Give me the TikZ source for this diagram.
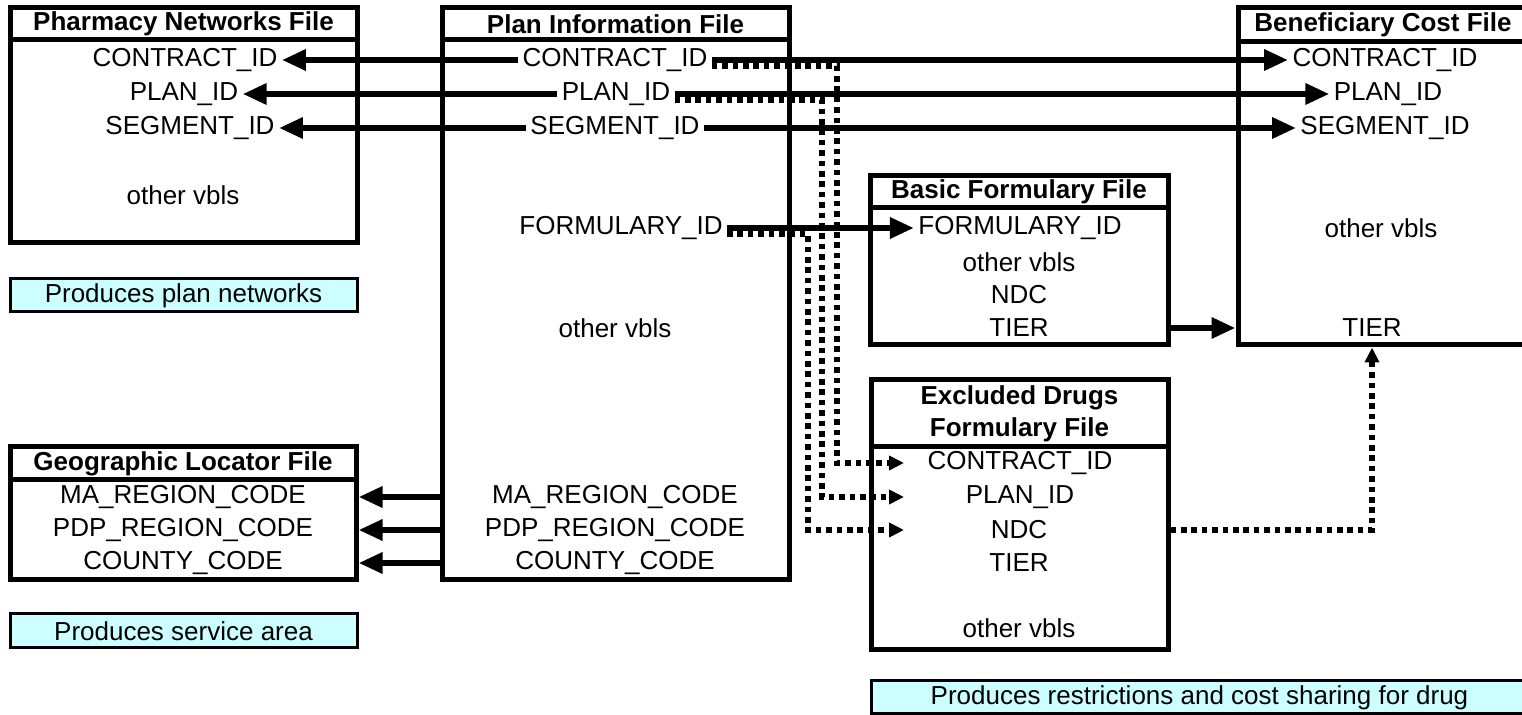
\documentclass[tikz,border=0pt]{standalone}
\usepackage{fontspec}
\setmainfont{Liberation Sans}
\usepackage{tikz}
\usetikzlibrary{arrows.meta}
\definecolor{noteCyan}{HTML}{CCFFFF}
\tikzset{
  fileBox/.style={%
    rectangle, draw, line width=2.5pt, inner sep=0pt,
  },
  headBox/.style={%
    fileBox, align=center,
    font=\bfseries\fontsize{13pt}{16pt}\selectfont,
  },
  fieldNode/.style={%
    inner sep=2pt, font=\fontsize{13pt}{16pt}\selectfont,
  },
  noteBox/.style={%
    rectangle, draw, line width=1.5pt, fill=noteCyan, inner sep=0pt,
    font=\fontsize{13pt}{16pt}\selectfont,
  },
  keyArrow/.style={%
    line width=3pt, -{Triangle[length=12pt,width=10pt]},
  },
  linkDots/.style={%
    line width=2.8pt, dash pattern=on 2.8pt off 2.4pt,
    -{Triangle[length=7.5pt,width=7pt]},
  }
}

\begin{document}
\begin{tikzpicture}[x=0.5pt,y=-0.5pt]
                \useasboundingbox (0,0) rectangle (1522,715);
                % file boxes
                \node[fileBox, minimum width=173.5pt, minimum height=117.5pt]
                  (pharmBox) at (183.5,125.5) {};
                \node[headBox, minimum width=173.5pt, minimum height=16pt]
                  (pharmHead) at (183.5,24) {Pharmacy Networks File};
                \node[fileBox, minimum width=173.5pt, minimum height=286pt]
                  (planBox) at (615.5,294) {};
                \node[headBox, minimum width=173.5pt, minimum height=16pt]
                  (planHead) at (615.5,24) {Plan Information File};
                \node[fileBox, minimum width=145pt, minimum height=168.5pt]
                  (benBox) at (1383,176.5) {};
                \node[headBox, minimum width=145pt, minimum height=17pt]
                  (benHead) at (1383,25) {Beneficiary Cost File};
                \node[fileBox, minimum width=149pt, minimum height=84.5pt]
                  (basicBox) at (1019,260.5) {};
                \node[headBox, minimum width=149pt, minimum height=16pt]
                  (basicHead) at (1019,192) {Basic Formulary File};
                \node[fileBox, minimum width=148.5pt, minimum height=135pt]
                  (exBox) at (1019.5,515) {};
                \node[headBox, minimum width=148.5pt, minimum height=33.5pt]
                  (exHead) at (1019.5,413.5) {Excluded Drugs\\Formulary File};
                \node[fileBox, minimum width=173pt, minimum height=66.5pt]
                  (geoBox) at (183,513.5) {};
                \node[headBox, minimum width=173pt, minimum height=16.5pt]
                  (geoHead) at (183,463.5) {Geographic Locator File};

                % notes
                \node[noteBox, minimum width=173.5pt, minimum height=16.5pt]
                  (noteNetworks) at (183.5,295.5) {Produces plan networks};
                \node[noteBox, minimum width=173.5pt, minimum height=17pt]
                  (noteArea) at (183.5,631) {Produces service area};
                \node[noteBox, minimum width=328.5pt, minimum height=16.5pt]
                  (noteDrug) at (1199.5,697.5) {Produces restrictions and cost sharing for drug};

                % fields
                \node[fieldNode] (pharmContract) at (185,60) {CONTRACT\_ID};
                \node[fieldNode] (pharmPlan) at (184,94) {PLAN\_ID};
                \node[fieldNode] (pharmSegment) at (190,128) {SEGMENT\_ID};
                \node[fieldNode] (pharmOther) at (183,195) {other vbls};

                \node[fieldNode] (planContract) at (615,60) {CONTRACT\_ID};
                \node[fieldNode] (planPlan) at (616,94) {PLAN\_ID};
                \node[fieldNode] (planSegment) at (615,128) {SEGMENT\_ID};
                \node[fieldNode] (planFormulary) at (621,228) {FORMULARY\_ID};
                \node[fieldNode] (planOther) at (615,328) {other vbls};
                \node[fieldNode] (planMa) at (615,497) {MA\_REGION\_CODE};
                \node[fieldNode] (planPdp) at (615,530) {PDP\_REGION\_CODE};
                \node[fieldNode] (planCounty) at (615,563) {COUNTY\_CODE};

                \node[fieldNode] (benContract) at (1385,60) {CONTRACT\_ID};
                \node[fieldNode] (benPlan) at (1388,94) {PLAN\_ID};
                \node[fieldNode] (benSegment) at (1385,128) {SEGMENT\_ID};
                \node[fieldNode] (benOther) at (1381,228) {other vbls};
                \node[fieldNode] (benTier) at (1372,328) {TIER};

                \node[fieldNode] (basicFormulary) at (1020,228) {FORMULARY\_ID};
                \node[fieldNode] (basicOther) at (1019,262) {other vbls};
                \node[fieldNode] (basicNdc) at (1019,295) {NDC};
                \node[fieldNode] (basicTier) at (1019,328) {TIER};

                \node[fieldNode] (exContract) at (1020,463) {CONTRACT\_ID};
                \node[fieldNode] (exPlan) at (1020,497) {PLAN\_ID};
                \node[fieldNode] (exNdc) at (1019,530) {NDC};
                \node[fieldNode] (exTier) at (1019,563) {TIER};
                \node[fieldNode] (exOther) at (1019,628) {other vbls};

                \node[fieldNode] (geoMa) at (183,497) {MA\_REGION\_CODE};
                \node[fieldNode] (geoPdp) at (183,530) {PDP\_REGION\_CODE};
                \node[fieldNode] (geoCounty) at (183,563) {COUNTY\_CODE};

                % key links
                \draw[keyArrow] (planContract) -- (pharmContract);
                \draw[keyArrow] (planPlan) -- (pharmPlan);
                \draw[keyArrow] (planSegment) -- (pharmSegment);
                \draw[keyArrow] (planContract) -- (benContract);
                \draw[keyArrow] (planPlan) -- (benPlan);
                \draw[keyArrow] (planSegment) -- (benSegment);
                \draw[keyArrow] (planFormulary) -- (basicFormulary);
                \draw[keyArrow] (basicBox.east |- basicTier) -- (benBox.west |- basicTier);
                \draw[keyArrow] (planBox.west |- planMa) -- (geoBox.east |- geoMa);
                \draw[keyArrow] (planBox.west |- planPdp) -- (geoBox.east |- geoPdp);
                \draw[keyArrow] (planBox.west |- planCounty) -- (geoBox.east |- geoCounty);

                % dotted links to the excluded drugs file
                \coordinate (busContract) at (837,0);
                \coordinate (busPlan) at (822,0);
                \coordinate (busFormulary) at (808,0);
                \coordinate (exIn) at (904,0);
                \draw[linkDots] ([yshift=-3pt]planContract.east)
                  -| (busContract |- exContract) -- (exIn |- exContract);
                \draw[linkDots] ([yshift=-3pt]planPlan.east)
                  -| (busPlan |- exPlan) -- (exIn |- exPlan);
                \draw[linkDots] ([yshift=-3pt]planFormulary.east)
                  -| (busFormulary |- exNdc) -- (exIn |- exNdc);
                \draw[linkDots] (exBox.east |- exNdc) -| (benTier |- benBox.south);
\end{tikzpicture}
\end{document}
